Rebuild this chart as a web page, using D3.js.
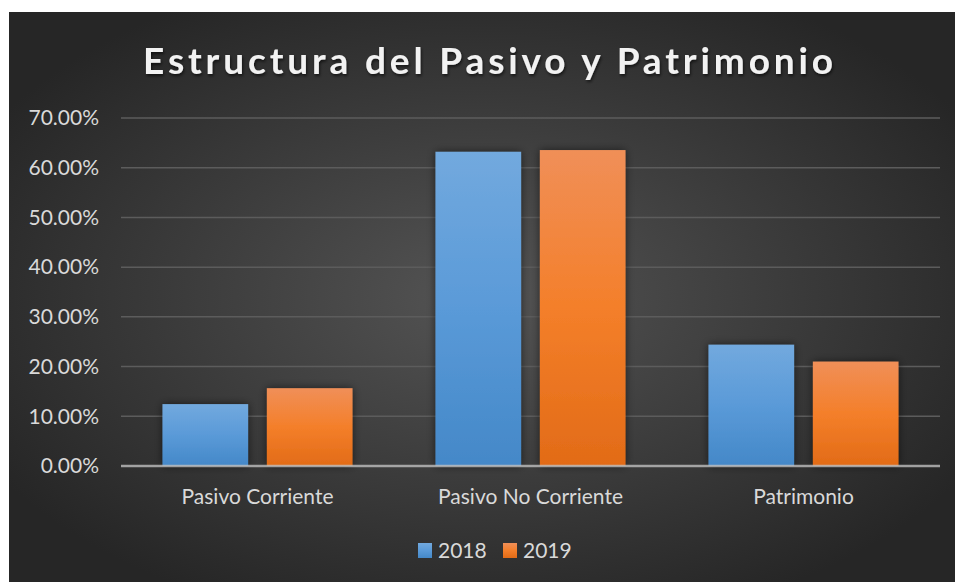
<!DOCTYPE html>
<html>
<head>
<meta charset="utf-8">
<script src="https://cdn.jsdelivr.net/npm/d3@7"></script>
<style>
  body { margin: 0; background: #fff; }
  svg { display: block; }
  text { font-family: Lato, "Open Sans", sans-serif; }
</style>
</head>
<body>
<script>
// data
var categories = ["Pasivo Corriente", "Pasivo No Corriente", "Patrimonio"];
var seriesNames = ["2018", "2019"];
var values2018 = [0.1245, 0.6320, 0.2440];
var values2019 = [0.1565, 0.6355, 0.2100];
var yTicks = [0, 0.1, 0.2, 0.3, 0.4, 0.5, 0.6, 0.7];

var width = 955, height = 582;
var margin = {top: 118, right: 15, bottom: 116, left: 121};

var svg = d3.select("body").append("svg")
    .attr("width", width)
    .attr("height", height);

var defs = svg.append("defs");

// background radial gradient
var bg = defs.append("radialGradient").attr("id", "bg")
    .attr("cx", "50%").attr("cy", "50%").attr("r", "60%");
bg.append("stop").attr("offset", "0%").attr("stop-color", "#545454");
bg.append("stop").attr("offset", "100%").attr("stop-color", "#262626");

var grads = [
  {id: "g2018", top: "#72a9de", mid: "#5a9ad8", bot: "#4488c8"},
  {id: "g2019", top: "#f08f58", mid: "#f47f2a", bot: "#e26b17"}
];
grads.forEach(function(g) {
  var lg = defs.append("linearGradient").attr("id", g.id)
      .attr("x1", 0).attr("y1", 0).attr("x2", 0).attr("y2", 1);
  lg.append("stop").attr("offset", "0%").attr("stop-color", g.top);
  lg.append("stop").attr("offset", "50%").attr("stop-color", g.mid);
  lg.append("stop").attr("offset", "100%").attr("stop-color", g.bot);
});

var shadow = defs.append("filter").attr("id", "shadow")
    .attr("x", "-20%").attr("y", "-20%").attr("width", "140%").attr("height", "140%");
shadow.append("feDropShadow").attr("dx", 0).attr("dy", 0)
    .attr("stdDeviation", 4).attr("flood-color", "#000").attr("flood-opacity", 0.55);

var tshadow = defs.append("filter").attr("id", "tshadow")
    .attr("x", "-5%").attr("y", "-20%").attr("width", "110%").attr("height", "150%");
tshadow.append("feDropShadow").attr("dx", 1).attr("dy", 2)
    .attr("stdDeviation", 1.5).attr("flood-color", "#000").attr("flood-opacity", 0.6);

svg.append("rect")
    .attr("x", 9).attr("y", 12)
    .attr("width", width - 9).attr("height", height - 12)
    .attr("fill", "url(#bg)");

// title
svg.append("text")
    .attr("x", 488).attr("y", 74)
    .attr("text-anchor", "middle")
    .attr("fill", "#f2f2f2")
    .attr("font-weight", "bold")
    .attr("font-size", 37)
    .attr("textLength", 690)
    .attr("lengthAdjust", "spacing")
    .attr("filter", "url(#tshadow)")
    .text("Estructura del Pasivo y Patrimonio");

var plotW = 940 - margin.left, plotH = 466 - margin.top;
var g = svg.append("g")
    .attr("transform", "translate(" + margin.left + "," + margin.top + ")");

var x0 = d3.scaleBand().domain(categories).range([0, plotW])
    .paddingInner(0.304).paddingOuter(0.152);
var x1 = d3.scaleBand().domain(seriesNames).range([0, x0.bandwidth()])
    .paddingInner(0.18);
var y = d3.scaleLinear().domain([0, 0.7]).range([plotH, 0]);

// gridlines
g.selectAll(".grid")
    .data(yTicks.slice(1))
  .enter().append("line")
    .attr("x1", 0).attr("x2", plotW)
    .attr("y1", function(d) { return y(d); })
    .attr("y2", function(d) { return y(d); })
    .attr("stroke", "#5c5c5c")
    .attr("stroke-width", 1.5);

// y axis labels
var yAxis = d3.axisLeft(y).tickValues(yTicks).tickSize(0).tickPadding(22)
    .tickFormat(d3.format(".2%"));
var ya = g.append("g").call(yAxis);
ya.select(".domain").remove();
ya.selectAll("text")
    .attr("fill", "#d9d9d9")
    .attr("font-size", 21)
    .style("font-family", "Lato, sans-serif");

// bars
var rows = categories.map(function(c, i) {
  return {cat: c, vals: [values2018[i], values2019[i]]};
});
var groups = g.selectAll(".cat")
    .data(rows)
  .enter().append("g")
    .attr("transform", function(d) { return "translate(" + x0(d.cat) + ",0)"; });

groups.selectAll("rect")
    .data(function(d) { return d.vals.map(function(v, j) { return {s: seriesNames[j], v: v}; }); })
  .enter().append("rect")
    .attr("x", function(d) { return x1(d.s); })
    .attr("width", x1.bandwidth())
    .attr("y", function(d) { return y(d.v); })
    .attr("height", function(d) { return plotH - y(d.v); })
    .attr("fill", function(d) { return "url(#g" + d.s + ")"; })
    .attr("filter", "url(#shadow)");

// x axis line
g.append("line")
    .attr("x1", 0).attr("x2", plotW)
    .attr("y1", plotH).attr("y2", plotH)
    .attr("stroke", "#bfbfbf")
    .attr("stroke-opacity", 0.8)
    .attr("stroke-width", 2.5);

// category labels
var xAxis = d3.axisBottom(x0).tickSize(0).tickPadding(23);
var xa = g.append("g").attr("transform", "translate(0," + plotH + ")").call(xAxis);
xa.select(".domain").remove();
xa.selectAll("text")
    .attr("fill", "#d9d9d9")
    .attr("font-size", 21)
    .style("font-family", "Lato, sans-serif");

// legend
var legend = svg.append("g").attr("transform", "translate(418,543)");
var items = legend.selectAll(".item")
    .data(seriesNames)
  .enter().append("g")
    .attr("transform", function(d, i) { return "translate(" + (i * 85) + ",0)"; });
items.append("rect")
    .attr("width", 14).attr("height", 15)
    .attr("fill", function(d) { return "url(#g" + d + ")"; });
items.append("text")
    .attr("x", 20).attr("y", 15)
    .attr("fill", "#d9d9d9")
    .attr("font-size", 21)
    .text(function(d) { return d; });
</script>
</body>
</html>
